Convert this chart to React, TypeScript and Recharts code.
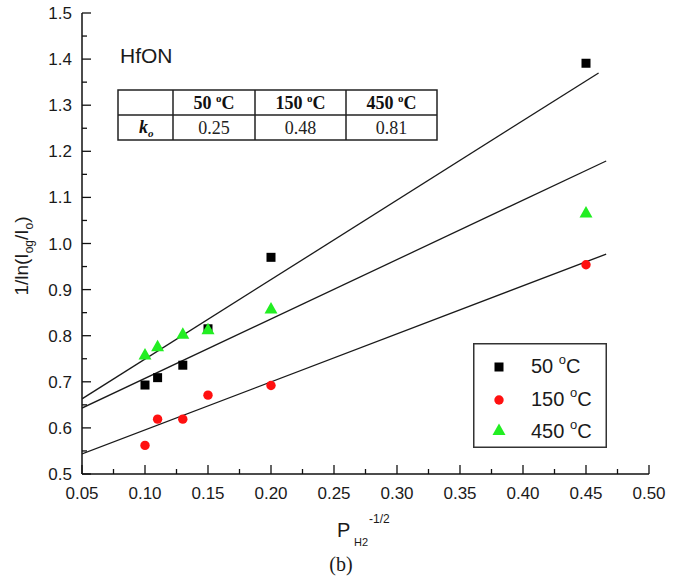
import React from "react";
import { ScatterChart, Scatter, XAxis, YAxis, Legend } from "recharts";

// tick values
const xMajorTicks = [0.05, 0.1, 0.15, 0.2, 0.25, 0.3, 0.35, 0.4, 0.45, 0.5];
const xMinorTicks = [0.075, 0.125, 0.175, 0.225, 0.275, 0.325, 0.375, 0.425, 0.475];
const yMajorTicks = [0.5, 0.6, 0.7, 0.8, 0.9, 1.0, 1.1, 1.2, 1.3, 1.4, 1.5];
const yMinorTicks = [0.55, 0.65, 0.75, 0.85, 0.95, 1.05, 1.15, 1.25, 1.35, 1.45];

// measured points
const pressure = [0.1, 0.11, 0.13, 0.15, 0.2, 0.45];
const ratio50 = [0.693, 0.709, 0.736, 0.815, 0.97, 1.391];
const ratio150 = [0.562, 0.619, 0.619, 0.671, 0.692, 0.954];
const ratio450 = [0.759, 0.777, 0.804, 0.814, 0.859, 1.067];

// fitted lines (end points)
const fitX50 = [0.05, 0.46];
const fitY50 = [0.663, 1.37];
const fitX450 = [0.05, 0.466];
const fitY450 = [0.643, 1.179];
const fitX150 = [0.05, 0.466];
const fitY150 = [0.5435, 0.977];

// inset table
const tableTemps = ["50", "150", "450"];
const koValues = ["0.25", "0.48", "0.81"];

const GREEN = "#22ee22";
const RED = "#ff1010";
const SANS = "'Liberation Sans', Arial, sans-serif";
const SERIF = "'Liberation Serif', 'Times New Roman', serif";

const toPoints = (xs: number[], ys: number[]) => xs.map((x, i) => ({ x, y: ys[i] }));

const pts50 = toPoints(pressure, ratio50);
const pts150 = toPoints(pressure, ratio150);
const pts450 = toPoints(pressure, ratio450);
const line50 = toPoints(fitX50, fitY50);
const line150 = toPoints(fitX150, fitY150);
const line450 = toPoints(fitX450, fitY450);

const xTicks = [...xMajorTicks, ...xMinorTicks].sort((a, b) => a - b);
const yTicks = [...yMajorTicks, ...yMinorTicks].sort((a, b) => a - b);

const isMajor = (v: number, list: number[]) => list.some((m) => Math.abs(m - v) < 1e-6);

const MAJOR = 9;
const MINOR = 5;

function BottomTick({ x, y, payload }: any) {
  const major = isMajor(payload.value, xMajorTicks);
  return (
    <g>
      <line x1={x} y1={y} x2={x} y2={y - (major ? MAJOR : MINOR)} stroke="#111" strokeWidth={1.3} />
      {major && (
        <text x={x} y={y + 25} textAnchor="middle" fontFamily={SANS} fontSize={17} fill="#1a1a1a">
          {payload.value.toFixed(2)}
        </text>
      )}
    </g>
  );
}

function TopTick({ x, y, payload }: any) {
  const major = isMajor(payload.value, xMajorTicks);
  return <line x1={x} y1={y} x2={x} y2={y + (major ? MAJOR : MINOR)} stroke="#111" strokeWidth={1.3} />;
}

function LeftTick({ x, y, payload }: any) {
  const major = isMajor(payload.value, yMajorTicks);
  return (
    <g>
      <line x1={x} y1={y} x2={x + (major ? MAJOR : MINOR)} y2={y} stroke="#111" strokeWidth={1.3} />
      {major && (
        <text x={x - 10} y={y + 6} textAnchor="end" fontFamily={SANS} fontSize={17} fill="#1a1a1a">
          {payload.value.toFixed(1)}
        </text>
      )}
    </g>
  );
}

function RightTick({ x, y, payload }: any) {
  const major = isMajor(payload.value, yMajorTicks);
  return <line x1={x} y1={y} x2={x - (major ? MAJOR : MINOR)} y2={y} stroke="#111" strokeWidth={1.3} />;
}

const Square = ({ cx, cy }: any) => <rect x={cx - 4.5} y={cy - 4.5} width={9} height={9} fill="#000" />;
const Dot = ({ cx, cy }: any) => <circle cx={cx} cy={cy} r={4.7} fill={RED} />;
const Triangle = ({ cx, cy }: any) => (
  <polygon points={`${cx},${cy - 6.5} ${cx - 6.5},${cy + 5} ${cx + 6.5},${cy + 5}`} fill={GREEN} />
);
const NoMark = () => <g />;

function YTitle() {
  return (
    <text
      x={28}
      y={256}
      transform="rotate(-90 28 256)"
      textAnchor="middle"
      fontFamily={SANS}
      fontSize={19}
      fill="#1a1a1a"
    >
      1/ln(I
      <tspan fontSize={12} dy={5}>og</tspan>
      <tspan dy={-5}>/I</tspan>
      <tspan fontSize={12} dy={5}>o</tspan>
      <tspan dy={-5}>)</tspan>
    </text>
  );
}

function XTitle() {
  return (
    <g fill="#1a1a1a">
      <text x={337} y={537} fontFamily={SANS} fontSize={20}>P</text>
      <text x={354} y={546} fontFamily={SANS} fontSize={11}>H2</text>
      <text x={369} y={523} fontFamily={SANS} fontSize={12}>-1/2</text>
      <text x={341} y={571} textAnchor="middle" fontFamily={SERIF} fontSize={20}>(b)</text>
    </g>
  );
}

const legendItems = [
  { temp: "50", mark: "square" },
  { temp: "150", mark: "circle" },
  { temp: "450", mark: "triangle" },
];

function LegendBox() {
  return (
    <svg width={134} height={105}>
      <rect x={0.75} y={0.75} width={132.5} height={103.5} fill="#fff" stroke="#333" strokeWidth={1.5} />
      {legendItems.map((it, i) => {
        const cy = [24, 57, 87][i];
        const base = [30, 63, 95][i];
        return (
          <g key={it.temp}>
            {it.mark === "square" && <rect x={21.5} y={cy - 4.5} width={9} height={9} fill="#000" />}
            {it.mark === "circle" && <circle cx={26} cy={cy} r={4.7} fill={RED} />}
            {it.mark === "triangle" && (
              <polygon points={`26,${cy - 6.5} 19.5,${cy + 5} 32.5,${cy + 5}`} fill={GREEN} />
            )}
            <text x={58} y={base} fontFamily={SANS} fontSize={20} fill="#1a1a1a">
              {it.temp + " "}
              <tspan fontSize={13} dy={-9}>o</tspan>
              <tspan dy={9}>C</tspan>
            </text>
          </g>
        );
      })}
    </svg>
  );
}

const colEdges = [118, 173, 255, 346, 437];

function InsetTable() {
  return (
    <svg width={682} height={581} style={{ position: "absolute", left: 0, top: 0, pointerEvents: "none" }}>
      <text x={120} y={63} fontFamily={SANS} fontSize={21} fill="#1a1a1a">HfON</text>
      <g stroke="#222" strokeWidth={1.5} fill="none">
        <rect x={118} y={90} width={319} height={50} />
        <line x1={118} y1={115} x2={437} y2={115} />
        {colEdges.slice(1, 4).map((cx) => (
          <line key={cx} x1={cx} y1={90} x2={cx} y2={140} />
        ))}
      </g>
      {tableTemps.map((t, i) => {
        const mid = (colEdges[i + 1] + colEdges[i + 2]) / 2;
        return (
          <g key={t}>
            <text x={mid} y={109} textAnchor="middle" fontFamily={SERIF} fontWeight="bold" fontSize={18} fill="#111">
              {t + " "}
              <tspan fontSize={11} dy={-7}>o</tspan>
              <tspan dy={7}>C</tspan>
            </text>
            <text x={mid} y={134} textAnchor="middle" fontFamily={SERIF} fontSize={18} fill="#222">
              {koValues[i]}
            </text>
          </g>
        );
      })}
      <text x={139} y={133} fontFamily={SERIF} fontWeight="bold" fontStyle="italic" fontSize={18} fill="#111">
        k<tspan fontSize={11} dy={4}>o</tspan>
      </text>
    </svg>
  );
}

export default function App() {
  return (
    <div style={{ position: "absolute", left: 0, top: 0, width: 682, height: 581, background: "#fff" }}>
      <ScatterChart width={682} height={581} margin={{ top: 13, right: 33, bottom: 0, left: 0 }}>
        <XAxis
          dataKey="x"
          type="number"
          domain={[0.05, 0.5]}
          ticks={xTicks}
          interval={0}
          height={107}
          tickSize={0}
          tickMargin={0}
          tickLine={false}
          tick={<BottomTick />}
          axisLine={{ stroke: "#111", strokeWidth: 1.5 }}
          allowDataOverflow
          label={<XTitle />}
        />
        <XAxis
          xAxisId="top"
          orientation="top"
          dataKey="x"
          type="number"
          domain={[0.05, 0.5]}
          ticks={xTicks}
          interval={0}
          height={0}
          tickSize={0}
          tickMargin={0}
          tickLine={false}
          tick={<TopTick />}
          axisLine={{ stroke: "#111", strokeWidth: 1.5 }}
          allowDataOverflow
        />
        <YAxis
          dataKey="y"
          type="number"
          domain={[0.5, 1.5]}
          ticks={yTicks}
          interval={0}
          width={82}
          tickSize={0}
          tickMargin={0}
          tickLine={false}
          tick={<LeftTick />}
          axisLine={{ stroke: "#111", strokeWidth: 1.5 }}
          allowDataOverflow
          label={<YTitle />}
        />
        <YAxis
          yAxisId="right"
          orientation="right"
          dataKey="y"
          type="number"
          domain={[0.5, 1.5]}
          ticks={yTicks}
          interval={0}
          width={0}
          tickSize={0}
          tickMargin={0}
          tickLine={false}
          tick={<RightTick />}
          axisLine={{ stroke: "#111", strokeWidth: 1.5 }}
          allowDataOverflow
        />
        <Scatter data={line50} line={{ stroke: "#1a1a1a", strokeWidth: 1.3 }} shape={<NoMark />} isAnimationActive={false} />
        <Scatter data={line450} line={{ stroke: "#1a1a1a", strokeWidth: 1.3 }} shape={<NoMark />} isAnimationActive={false} />
        <Scatter data={line150} line={{ stroke: "#1a1a1a", strokeWidth: 1.3 }} shape={<NoMark />} isAnimationActive={false} />
        <Scatter name="50 °C" data={pts50} shape={<Square />} isAnimationActive={false} />
        <Scatter name="150 °C" data={pts150} shape={<Dot />} isAnimationActive={false} />
        <Scatter name="450 °C" data={pts450} shape={<Triangle />} isAnimationActive={false} />
        <Legend
          layout="horizontal"
          verticalAlign="middle"
          align="center"
          content={<LegendBox />}
          wrapperStyle={{ left: 473, top: 343, width: 134, height: 105 }}
        />
      </ScatterChart>
      <InsetTable />
    </div>
  );
}
